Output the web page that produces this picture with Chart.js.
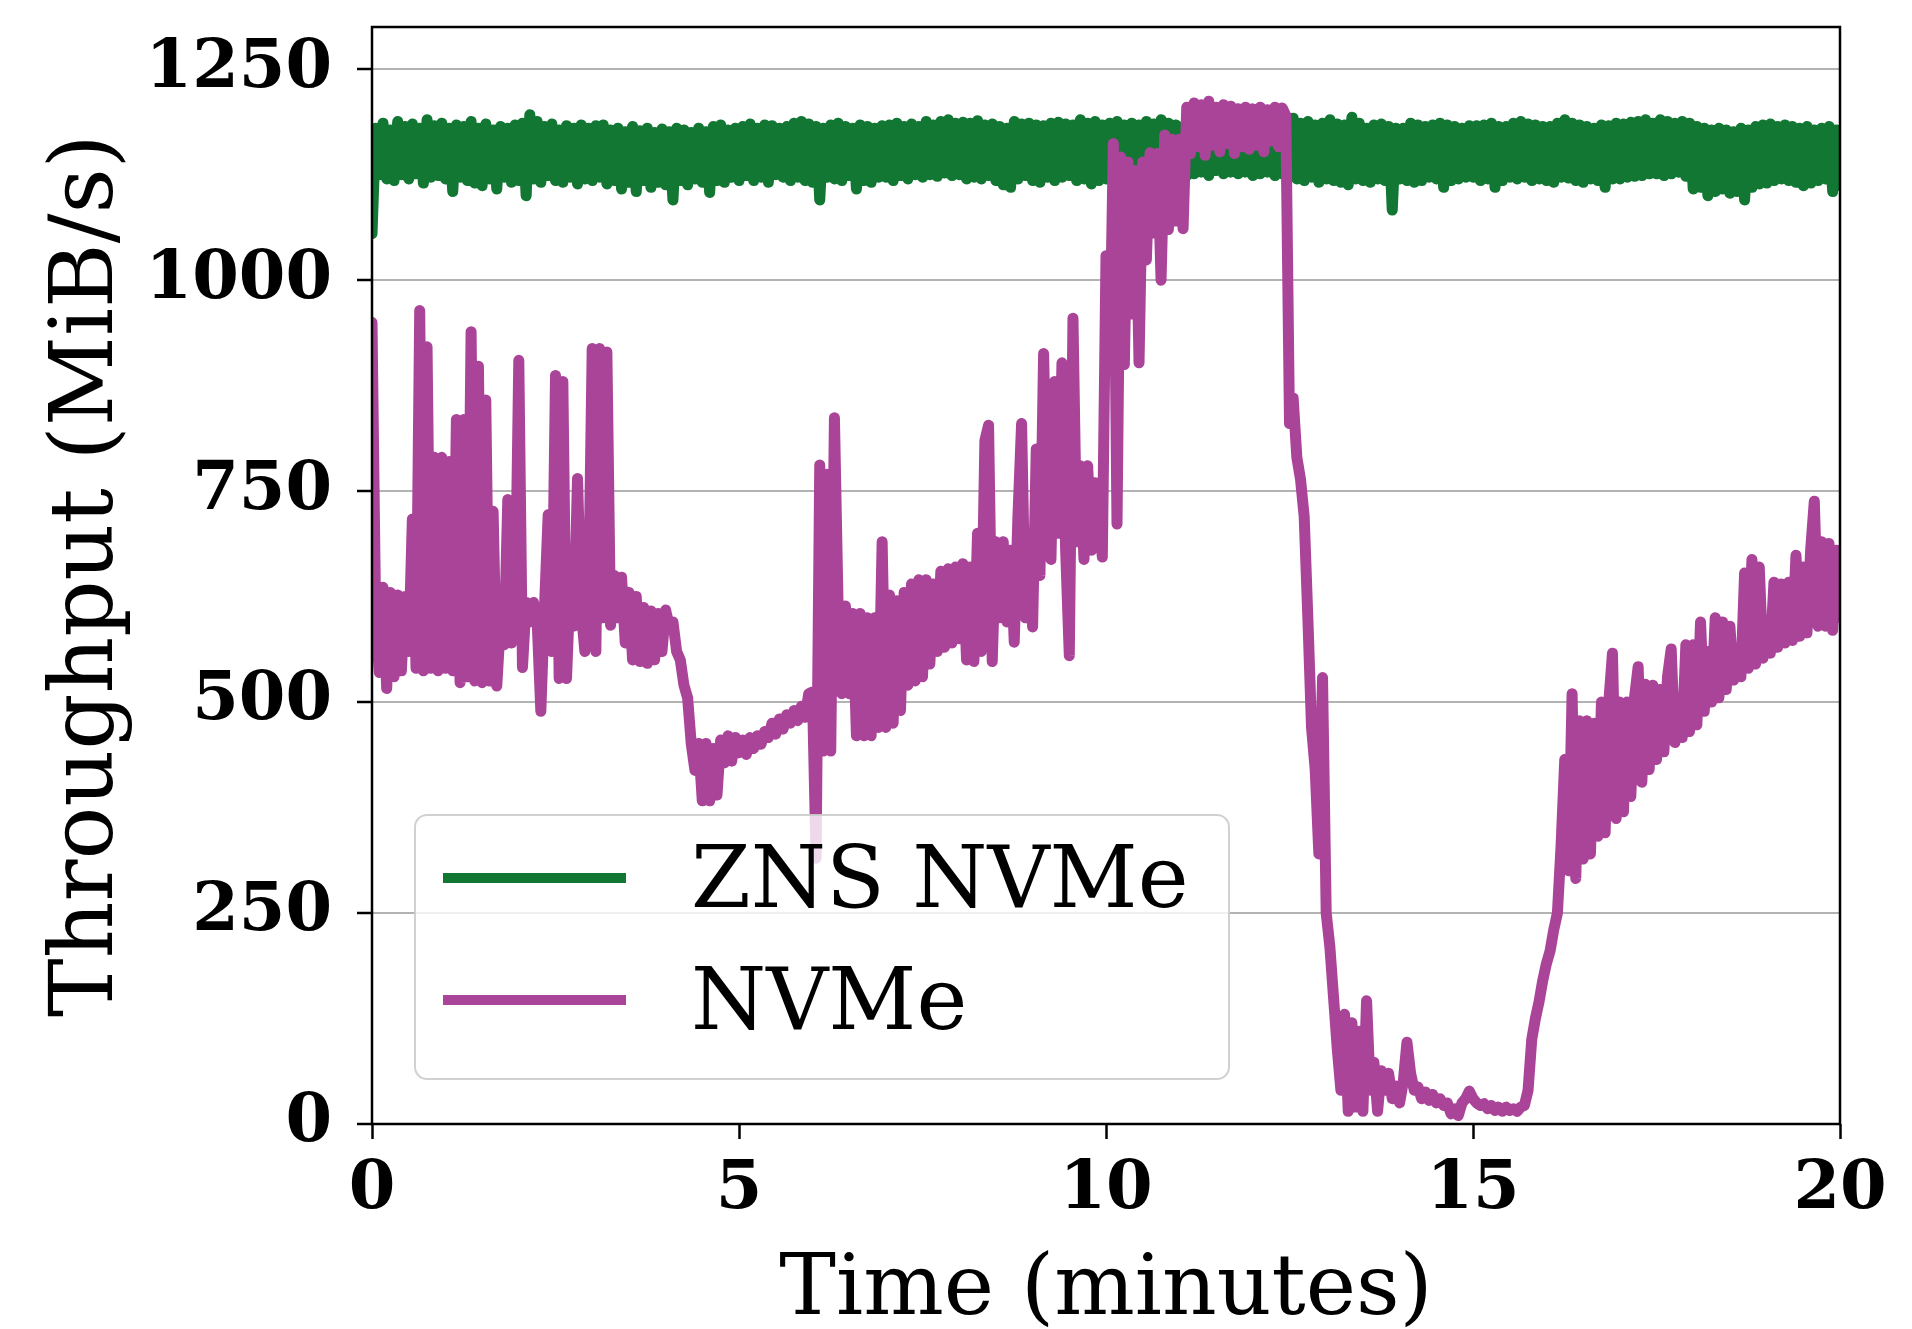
<!DOCTYPE html>
<html><head><meta charset="utf-8">
<script src="https://cdn.jsdelivr.net/npm/chart.js@4.4.1/dist/chart.umd.min.js"></script>
<style>html,body{margin:0;padding:0;background:#fff;overflow:hidden}canvas{display:block}</style>
</head><body>
<canvas id="c" width="1912" height="1329"></canvas>
<script>
const seriesLabels = ['ZNS NVMe', 'NVMe'];
const seriesColors = ['#117733', '#AA4499'];
const xTickValues = [0, 5, 10, 15, 20];
const yTickValues = [0, 250, 500, 750, 1000, 1250];
const xAxisTitle = 'Time (minutes)';
const yAxisTitle = 'Throughput (MiB/s)';
const znsStepMinutes = 0.05;
const nvmeStepMinutes = 0.05;

// ZNS NVMe throughput, one sample every 0.05 min
const znsValues = [
 1055,1180,1125,1186,1120,1178,1118,1188,1125,1182,1120,1185,1126,1180,1115,1190,1122,1183,1124,1186,
 1120,1180,1105,1184,1122,1182,1118,1188,1115,1180,1112,1185,1120,1178,1108,1182,1122,1180,1116,1184,
 1118,1186,1100,1196,1120,1188,1116,1182,1124,1185,1118,1178,1116,1183,1122,1180,1114,1184,1120,1180,
 1118,1183,1122,1184,1114,1178,1118,1180,1108,1176,1116,1182,1105,1177,1118,1180,1110,1175,1116,1179,
 1113,1176,1095,1180,1118,1178,1113,1175,1120,1180,1116,1176,1104,1182,1118,1184,1116,1178,1122,1180,
 1118,1182,1124,1185,1118,1180,1122,1184,1116,1183,1125,1180,1122,1182,1118,1186,1122,1188,1118,1185,
 1116,1182,1095,1180,1122,1184,1120,1186,1118,1182,1124,1180,1108,1184,1118,1182,1116,1180,1122,1183,
 1122,1184,1118,1186,1124,1182,1120,1185,1125,1182,1122,1188,1125,1184,1123,1188,1127,1190,1124,1186,
 1125,1187,1120,1186,1122,1189,1120,1184,1124,1185,1118,1182,1113,1180,1110,1188,1120,1185,1124,1186,
 1118,1184,1116,1183,1122,1186,1118,1187,1122,1185,1124,1184,1118,1190,1120,1186,1114,1188,1118,1184,
 1120,1186,1118,1188,1116,1184,1122,1186,1120,1184,1124,1188,1118,1185,1122,1190,1120,1186,1125,1184,
 1128,1182,1124,1180,1126,1178,1128,1182,1124,1180,1130,1182,1126,1180,1128,1184,1126,1182,1128,1180,
 1124,1182,1126,1180,1128,1184,1124,1182,1126,1186,1122,1192,1120,1186,1118,1188,1122,1184,1116,1186,
 1120,1190,1118,1185,1116,1184,1113,1193,1120,1186,1118,1180,1116,1184,1120,1185,1118,1182,1083,1180,
 1120,1180,1118,1186,1116,1184,1118,1182,1122,1184,1120,1186,1110,1184,1118,1182,1120,1180,1122,1183,
 1122,1183,1118,1184,1120,1186,1110,1182,1118,1182,1122,1186,1120,1188,1122,1185,1118,1184,1120,1182,
 1118,1182,1116,1186,1122,1190,1121,1186,1118,1184,1116,1182,1120,1180,1118,1184,1110,1183,1120,1186,
 1120,1185,1122,1187,1123,1188,1124,1190,1126,1186,1126,1190,1124,1188,1126,1186,1128,1188,1123,1186,
 1108,1182,1110,1180,1100,1178,1105,1180,1108,1178,1103,1176,1105,1180,1095,1178,1110,1182,1114,1184,
 1115,1185,1118,1182,1120,1184,1118,1182,1116,1180,1112,1182,1115,1178,1118,1180,1120,1182,1105,1178,
 1112
];

// NVMe throughput, one sample every 0.05 min
const nvmeValues = [
 950,600,535,636,516,630,530,627,537,625,560,717,540,964,537,921,540,790,537,790,
 540,785,537,835,523,835,530,939,525,898,523,858,525,726,519,595,568,740,570,600,
 905,541,618,595,618,596,489,612,722,560,887,528,880,528,640,590,765,609,560,619,
 919,560,919,600,915,591,650,600,648,570,630,550,625,548,612,546,608,550,605,560,
 609,590,595,560,550,520,505,450,419,451,383,451,383,445,390,455,428,460,430,458,
 440,455,438,458,445,460,450,465,458,475,462,480,468,485,475,490,478,495,482,510,
 512,315,781,442,770,442,837,614,510,614,510,605,460,605,460,600,460,600,470,690,
 470,627,475,620,490,630,520,640,525,645,530,645,545,640,560,655,565,658,570,660,
 575,664,550,660,548,700,560,810,828,548,690,600,690,595,680,571,720,830,600,700,
 589,800,650,913,700,669,880,700,902,680,555,955,690,780,669,780,680,760,720,672,
 1029,900,1162,711,1146,900,1140,960,1130,902,1140,1024,1151,1056,1150,1000,1172,1060,1167,1070,
 1167,1061,1205,1150,1210,1158,1208,1148,1212,1160,1205,1152,1208,1162,1206,1150,1203,1158,1205,1155,
 1203,1160,1205,1152,1202,1165,1205,1158,1204,1195,830,860,790,764,720,600,470,420,320,529,
 250,210,150,90,40,130,15,120,20,110,15,146,40,73,15,63,40,60,30,45,
 25,50,97,60,40,44,30,38,28,35,25,30,22,25,12,18,10,25,30,39,
 30,25,22,24,18,22,16,20,15,20,16,18,15,20,22,40,100,125,145,170,
 190,205,230,250,330,432,300,510,291,478,314,478,320,475,341,500,345,500,558,362,
 500,370,500,388,505,542,405,521,420,520,432,515,441,530,563,452,494,458,568,465,
 568,473,595,489,560,500,600,505,595,515,590,526,552,530,653,540,669,545,660,552,
 579,558,642,565,640,570,642,573,674,578,660,582,680,738,590,690,590,688,585,680,
 600
];

const toPoints = (values, step) => values.map((v, i) => ({x: i * step, y: v}));

const SERIF = "'DejaVu Serif', serif";

const framePlugin = {
  id: 'frame',
  afterDatasetsDraw(chart) {
    const {ctx, chartArea: ca} = chart;
    ctx.save();
    ctx.strokeStyle = '#000';
    ctx.lineWidth = 2.5;
    ctx.strokeRect(ca.left, ca.top, ca.right - ca.left, ca.bottom - ca.top);
    ctx.restore();
  }
};

const legendBoxPlugin = {
  id: 'legendBox',
  afterDraw(chart) {
    const {ctx, chartArea: ca} = chart;
    const w = 814, h = 264;
    const left = ca.left + 43, top = ca.bottom - 45 - h;
    ctx.save();
    ctx.beginPath();
    ctx.roundRect(left, top, w, h, 12);
    ctx.fillStyle = 'rgba(255,255,255,0.8)';
    ctx.fill();
    ctx.lineWidth = 2;
    ctx.strokeStyle = 'rgba(204,204,204,0.9)';
    ctx.stroke();
    chart.data.datasets.forEach((ds, i) => {
      const cy = top + 63 + i * 122;
      ctx.beginPath();
      ctx.moveTo(left + 28, cy);
      ctx.lineTo(left + 211, cy);
      ctx.strokeStyle = ds.borderColor;
      ctx.lineWidth = 10;
      ctx.lineCap = 'butt';
      ctx.stroke();
      ctx.fillStyle = '#000';
      ctx.font = "86px " + SERIF;
      ctx.textAlign = 'left';
      ctx.textBaseline = 'alphabetic';
      ctx.fillText(ds.label, left + 276, cy + 29);
    });
    ctx.restore();
  }
};

new Chart(document.getElementById('c'), {
  type: 'line',
  data: {
    datasets: [
      {label: seriesLabels[0], data: toPoints(znsValues, znsStepMinutes), borderColor: seriesColors[0], order: 1},
      {label: seriesLabels[1], data: toPoints(nvmeValues, nvmeStepMinutes), borderColor: seriesColors[1], order: 0}
    ].map(d => Object.assign(d, {borderWidth: 11, pointRadius: 0, tension: 0, fill: false,
      borderJoinStyle: 'round', borderCapStyle: 'round', clip: 0}))
  },
  options: {
    responsive: false,
    animation: false,
    devicePixelRatio: 1,
    layout: {padding: {top: 27, right: 72, bottom: 0, left: 0}},
    plugins: {legend: {display: false}, tooltip: {enabled: false}},
    scales: {
      x: {
        type: 'linear', min: 0, max: 20,
        afterBuildTicks: s => { s.ticks = xTickValues.map(v => ({value: v})); },
        afterFit: s => { s.height = 205; s.paddingLeft = 0; s.paddingRight = 0; },
        ticks: {color: '#000', padding: 11, maxRotation: 0, autoSkip: false,
          callback: v => String(v),
          font: {family: SERIF, size: 67, weight: 'bold'}},
        grid: {drawOnChartArea: false, drawTicks: true, tickLength: 15, tickColor: '#000', tickWidth: 2.5},
        border: {display: false},
        title: {display: true, text: xAxisTitle, color: '#000',
          font: {family: SERIF, size: 85, lineHeight: 0.8}, padding: {top: 0, bottom: 3}}
      },
      y: {
        type: 'linear', min: 0, max: 1300,
        afterBuildTicks: s => { s.ticks = yTickValues.map(v => ({value: v})); },
        afterFit: s => { s.width = 372; s.paddingTop = 0; s.paddingBottom = 0; },
        ticks: {color: '#000', padding: 25, autoSkip: false,
          callback: v => String(v),
          font: {family: SERIF, size: 67, weight: 'bold'}},
        grid: {color: '#b3b3b3', lineWidth: 2, drawTicks: true, tickLength: 15, tickColor: '#000', tickWidth: 2.5},
        border: {display: false},
        title: {display: true, text: yAxisTitle, color: '#000',
          font: {family: SERIF, size: 88, lineHeight: 1}, padding: {top: 45.5, bottom: 0}}
      }
    }
  },
  plugins: [framePlugin, legendBoxPlugin]
});
</script>
</body></html>
